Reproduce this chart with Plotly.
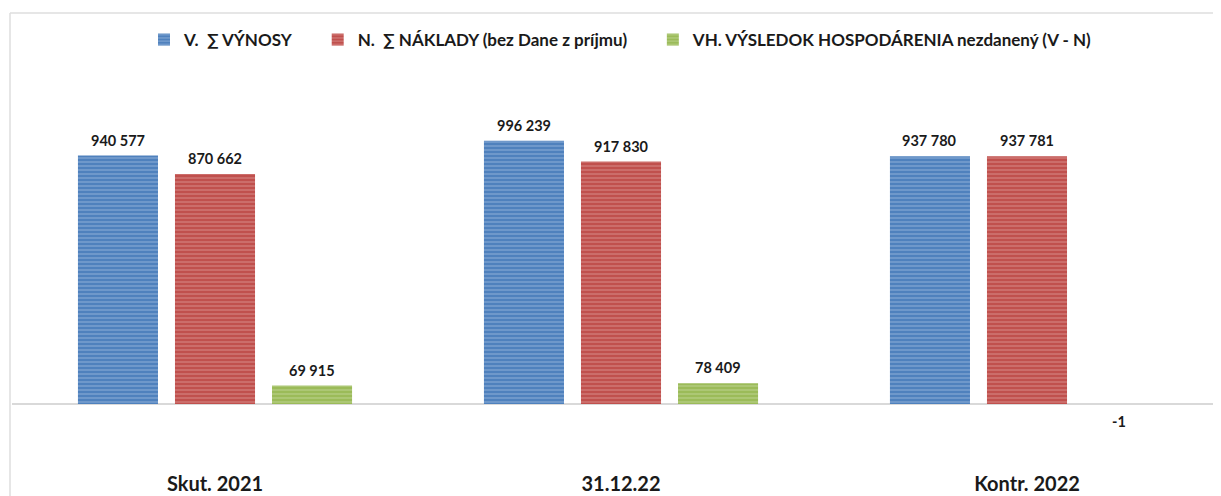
import plotly.graph_objects as go

categories = ["Skut. 2021", "31.12.22", "Kontr. 2022"]
vynosy = [940577, 996239, 937780]
naklady = [870662, 917830, 937781]
vysledok = [69915, 78409, -1]

series_names = [
    "V.\u00a0\u00a0∑ VÝNOSY" + "\u00a0" * 5,
    "N.\u00a0\u00a0∑ NÁKLADY (bez Dane z príjmu)" + "\u00a0" * 5,
    "VH. VÝSLEDOK HOSPODÁRENIA nezdanený (V - N)",
]
dark = ["#4f81bd", "#c0504d", "#9bbb59"]
light = ["#b9cde9", "#e6b0ae", "#d3e2b5"]

def fmt(v):
    return f"{v:,}".replace(",", " ")

FONT = "Lato"
TXT = "#1a1a1a"

# figure geometry (figure pixels; page adds an 8px body margin)
W, H = 1221, 496
L, T, B = 4, 52, 34
plot_w = 1209
plot_h = H - T - B
cat_px = 406.0
bargap, bargroupgap = 0.283, 0.175
scale = 3785.0
zero_px = 396  # figure y of zero line

fig = go.Figure()
for name, vals, dc, lc in zip(series_names, [vynosy, naklady, vysledok], dark, light):
    fig.add_trace(go.Bar(
        x=categories, y=vals, name=name,
        marker=dict(color=dc, line=dict(width=0),
                    pattern=dict(shape="-", fgcolor=lc, bgcolor=dc, size=4, solidity=0.3)),
        cliponaxis=False,
    ))

slot = cat_px * (1 - bargap) / 3
offsets = [-slot, 0, slot]
for off, vals in zip(offsets, [vynosy, naklady, vysledok]):
    for c, v in zip(categories, vals):
        if v >= 0:
            fig.add_annotation(x=c, y=v, text=fmt(v), showarrow=False, xshift=off,
                               yanchor="bottom", yshift=5,
                               font=dict(family=FONT, size=14.5, color=TXT, weight="bold"))
        else:
            fig.add_annotation(x=c, y=0, text=fmt(v), showarrow=False, xshift=off - 5,
                               yanchor="top", yshift=-7,
                               font=dict(family=FONT, size=14.5, color=TXT, weight="bold"))

fig.update_layout(
    width=W, height=H,
    margin=dict(l=L, r=W - L - plot_w, t=T, b=B),
    paper_bgcolor="white", plot_bgcolor="white",
    barmode="group", bargap=bargap, bargroupgap=bargroupgap,
    showlegend=True,
    legend=dict(orientation="h", x=(613 - L) / plot_w, xanchor="center",
                y=(H - B - 32) / plot_h, yanchor="middle",
                font=dict(family=FONT, size=17, color=TXT, weight="bold"),
                traceorder="normal"),
    xaxis=dict(range=[-0.5, -0.5 + plot_w / cat_px], showgrid=False, showline=False, ticks="",
               tickfont=dict(family=FONT, size=20, color=TXT, weight="bold")),
    yaxis=dict(range=[-(H - B - zero_px) * scale, (zero_px - T) * scale], showgrid=False,
               showticklabels=False, zeroline=True, zerolinecolor="#d9d9d9", zerolinewidth=2,
               showline=False),
)

def px_x(px):
    return (px - L) / plot_w

def px_y(py):
    return (H - B - py) / plot_h

border = "#dedede"
fig.add_shape(type="line", xref="paper", yref="paper",
              x0=px_x(2), x1=px_x(1230), y0=px_y(5), y1=px_y(5),
              line=dict(color=border, width=1.5))
fig.add_shape(type="line", xref="paper", yref="paper",
              x0=px_x(2), x1=px_x(2), y0=px_y(5), y1=px_y(500),
              line=dict(color=border, width=1.5))

fig.write_html("out.html")
